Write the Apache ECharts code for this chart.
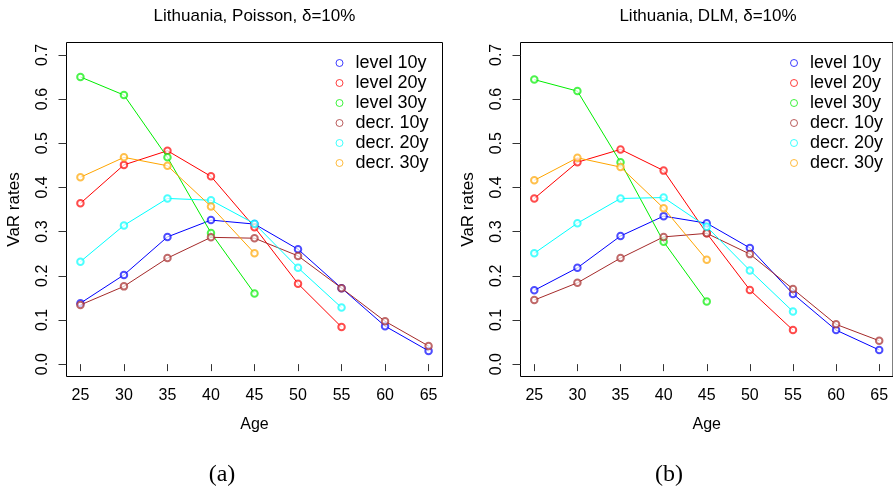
<!DOCTYPE html>
<html>
<head>
<meta charset="utf-8">
<script src="https://cdn.jsdelivr.net/npm/echarts@6/dist/echarts.min.js"></script>
<style>
html,body{margin:0;padding:0;background:#fff;}
#chart{width:893px;height:491px;}
</style>
</head>
<body>
<div id="chart"></div>
<script>
// ---- data ----
const ages = [25, 30, 35, 40, 45, 50, 55, 60, 65];
const yTicks = [0, 0.1, 0.2, 0.3, 0.4, 0.5, 0.6, 0.7];
const seriesNames = ['level 10y', 'level 20y', 'level 30y', 'decr. 10y', 'decr. 20y', 'decr. 30y'];
const seriesColors = ['#0000ff', '#ff0000', '#00ee00', '#a52a2a', '#00ffff', '#ffa500'];

// Panel (a): Poisson
const poisLevel10 = [0.138, 0.202, 0.288, 0.326, 0.317, 0.260, 0.172, 0.086, 0.030];
const poisLevel20 = [0.364, 0.451, 0.483, 0.425, 0.310, 0.182, 0.084];
const poisLevel30 = [0.650, 0.609, 0.468, 0.297, 0.160];
const poisDecr10  = [0.134, 0.176, 0.240, 0.287, 0.285, 0.245, 0.172, 0.097, 0.041];
const poisDecr20  = [0.232, 0.314, 0.375, 0.371, 0.318, 0.218, 0.128];
const poisDecr30  = [0.423, 0.468, 0.449, 0.357, 0.251];

// Panel (b): DLM
const dlmLevel10 = [0.167, 0.218, 0.290, 0.335, 0.319, 0.263, 0.159, 0.077, 0.032];
const dlmLevel20 = [0.375, 0.457, 0.486, 0.438, 0.296, 0.168, 0.077];
const dlmLevel30 = [0.644, 0.618, 0.457, 0.277, 0.142];
const dlmDecr10  = [0.145, 0.184, 0.240, 0.288, 0.296, 0.249, 0.170, 0.090, 0.053];
const dlmDecr20  = [0.251, 0.319, 0.375, 0.377, 0.311, 0.212, 0.119];
const dlmDecr30  = [0.416, 0.467, 0.446, 0.353, 0.236];

const titles = ['Lithuania, Poisson, \u03b4=10%', 'Lithuania, DLM, \u03b4=10%'];
const captions = ['(a)', '(b)'];

// ---- chart ----
const FONT = 'Liberation Sans, Arial, sans-serif';
const panels = [
  [poisLevel10, poisLevel20, poisLevel30, poisDecr10, poisDecr20, poisDecr30],
  [dlmLevel10, dlmLevel20, dlmLevel30, dlmDecr10, dlmDecr20, dlmDecr30]
];
const grids = [
  {left: 66.5, top: 42.5, width: 376, height: 334, show: true, borderColor: '#000', borderWidth: 1, backgroundColor: 'transparent'},
  {left: 520.5, top: 42.5, width: 377, height: 334, show: true, borderColor: '#000', borderWidth: 1, backgroundColor: 'transparent'}
];

function xAxisFor(i) {
  return {
    gridIndex: i, type: 'value', min: 23.4, max: 66.6,
    name: 'Age', nameLocation: 'middle', nameGap: 40,
    nameTextStyle: {fontFamily: FONT, fontSize: 16, color: '#000'},
    axisLine: {show: false},
    axisTick: {show: true, length: 7, customValues: ages, lineStyle: {color: '#333'}},
    axisLabel: {customValues: ages, margin: 11, fontFamily: FONT, fontSize: 16, color: '#000'},
    splitLine: {show: false}
  };
}
function yAxisFor(i) {
  return {
    gridIndex: i, type: 'value', min: -0.028, max: 0.728,
    name: 'VaR rates', nameLocation: 'middle', nameGap: 44, nameRotate: 90,
    nameTextStyle: {fontFamily: FONT, fontSize: 17, color: '#000'},
    axisLine: {show: false},
    axisTick: {show: true, length: 8, customValues: yTicks, lineStyle: {color: '#333'}},
    axisLabel: {customValues: yTicks, rotate: 90, margin: 16, fontFamily: FONT, fontSize: 16, color: '#000',
      formatter: v => v.toFixed(1)},
    splitLine: {show: false}
  };
}

const series = [];
panels.forEach((arrs, p) => {
  arrs.forEach((vals, k) => {
    series.push({
      name: seriesNames[k], type: 'line',
      xAxisIndex: p, yAxisIndex: p,
      data: vals.map((v, j) => [ages[j], v]),
      symbol: 'emptyCircle', symbolSize: 6.5,
      lineStyle: {color: seriesColors[k], width: 1},
      itemStyle: {color: seriesColors[k], borderColor: seriesColors[k], borderWidth: 1, opacity: 0.7},
      emphasis: {disabled: true},
      animation: false, z: 2 + k
    });
  });
});

function legendFor(left) {
  return {
    left: left, top: 54, orient: 'vertical', padding: 0,
    icon: 'circle', itemWidth: 22, itemHeight: 7, itemGap: 2,
    textStyle: {fontFamily: FONT, fontSize: 18, color: '#000', lineHeight: 18},
    selectedMode: false,
    data: seriesNames.map((n, k) => ({name: n, itemStyle: {color: '#fff', borderColor: seriesColors[k], borderWidth: 1, opacity: 0.75}}))
  };
}

const option = {
  backgroundColor: '#fff',
  animation: false,
  grid: grids,
  xAxis: [xAxisFor(0), xAxisFor(1)],
  yAxis: [yAxisFor(0), yAxisFor(1)],
  legend: [legendFor(335.5), legendFor(790)],
  series: series,
  graphic: [
    {type: 'text', x: 254.5, y: 16, style: {text: titles[0], align: 'center', verticalAlign: 'middle', font: '17px ' + FONT, fill: '#000'}},
    {type: 'text', x: 708, y: 16, style: {text: titles[1], align: 'center', verticalAlign: 'middle', font: '17px ' + FONT, fill: '#000'}},
    {type: 'text', x: 222, y: 475, style: {text: captions[0], align: 'center', verticalAlign: 'middle', font: '24px Liberation Serif, Times New Roman, serif', fill: '#000'}},
    {type: 'text', x: 669, y: 475, style: {text: captions[1], align: 'center', verticalAlign: 'middle', font: '24px Liberation Serif, Times New Roman, serif', fill: '#000'}}
  ]
};
const chart = echarts.init(document.getElementById('chart'), null, {renderer: 'canvas'});
chart.setOption(option);
</script>
</body>
</html>
